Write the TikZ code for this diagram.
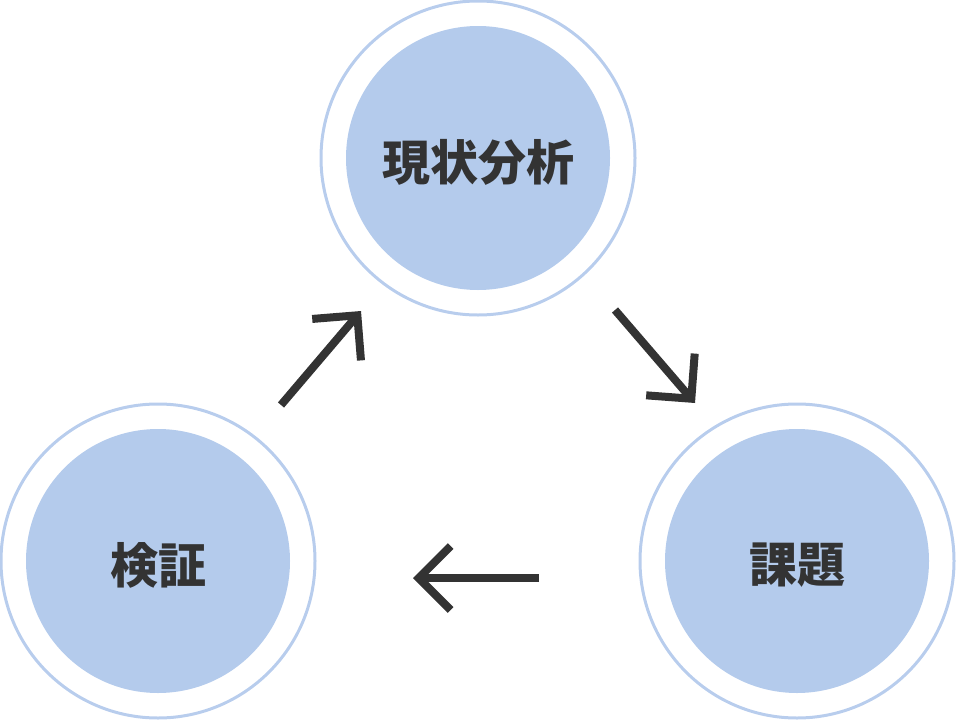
\documentclass[tikz,border=0pt]{standalone}
\usepackage{fontspec}
\newfontfamily\cjk{Noto Sans CJK JP}
\usetikzlibrary{arrows.meta, calc}
\definecolor{stageblue}{RGB}{180,203,236}
\definecolor{ringblue}{RGB}{184,205,237}
\definecolor{inkgray}{RGB}{51,51,51}
\tikzset{
  stage/.style={circle, fill=stageblue, minimum size=264pt, inner sep=0pt,
    label={[text=inkgray, font=\cjk\bfseries\fontsize{48}{56}\selectfont,
            yshift=-4pt]center:#1}},
  ring/.style={draw=ringblue, line width=3pt},
  cyclearrow/.style={draw=inkgray, line width=8pt,
    -{Straight Barb[length=32pt, width=64pt]}}
}

\begin{document}
\begin{tikzpicture}[x=1pt, y=-1pt]
  \useasboundingbox (0,0) rectangle (956,720);
  % three stages of the cycle
  \node[stage=現状分析] (analysis) at (478,158) {};
  \node[stage=課題]     (issue)    at (797,561) {};
  \node[stage=検証]     (verify)   at (158,561) {};
  \foreach \s in {analysis, issue, verify}
    \draw[ring] (\s.center) circle[radius=157];
  % arrow ends
  \coordinate (up from)    at (281,405);
  \coordinate (up to)      at (361,311);
  \coordinate (down from)  at (615,310);
  \coordinate (down to)    at (695,403);
  \coordinate (left from)  at (539,578);
  \coordinate (left to)    at (413,578);
  \draw[cyclearrow] (up from) -- (up to);
  \draw[cyclearrow] (down from) -- (down to);
  \draw[cyclearrow] (left from) -- (left to);
\end{tikzpicture}
\end{document}
